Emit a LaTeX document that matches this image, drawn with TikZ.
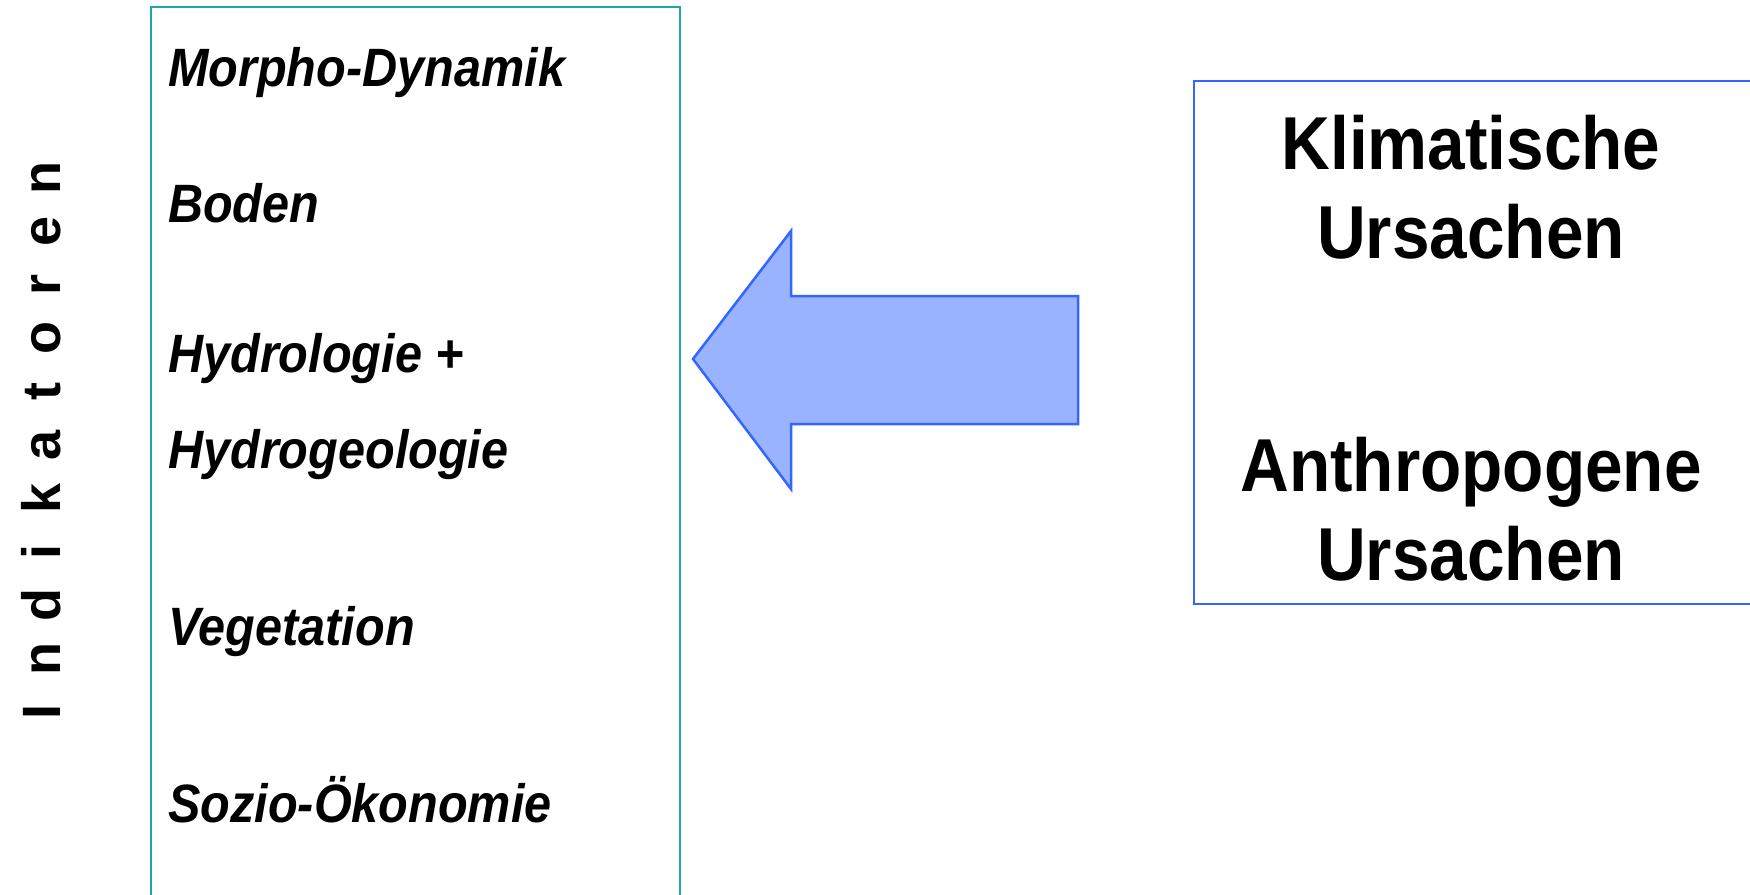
\documentclass[tikz,border=0pt]{standalone}
\usepackage{fontspec}
\setmainfont{Liberation Sans}
\newfontfamily\labfont[FakeStretch=0.9]{Liberation Sans}
\newfontfamily\causefont[FakeStretch=0.9]{Liberation Sans}
\definecolor{tealc}{RGB}{30,166,166}
\definecolor{bluec}{RGB}{51,102,255}
\definecolor{bluefill}{RGB}{153,179,255}
\newcommand\lsp[1]{\makebox[53.4pt]{#1}}
\begin{document}
\begin{tikzpicture}[x=1pt,y=-1pt,
  lab/.style={anchor=base west, inner sep=0pt, font=\labfont\bfseries\itshape\fontsize{54}{60}\selectfont},
  cause/.style={anchor=base, inner sep=0pt, align=center, font=\causefont\bfseries\fontsize{75}{89}\selectfont},
  frame/.style={draw, line width=2pt, anchor=north west, inner sep=0pt},
  bigarrow/.style={draw=bluec, fill=bluefill, line width=2.5pt, line join=miter}]
\useasboundingbox (0,0) rectangle (1750,894);
\clip (0,0) rectangle (1750,894);
% left frame
\node[frame, draw=tealc, minimum width=529pt, minimum height=900pt] (indbox) at (150,6) {};
\node[lab] (morpho) at (168,86) {Morpho-Dynamik};
\node[lab] (boden) at (168,222) {Boden};
\node[lab] (hydro) at (168,372) {Hydrologie +};
\node[lab] (hydrogeo) at (168,468) {Hydrogeologie};
\node[lab] (veg) at (168,645) {Vegetation};
\node[lab] (sozio) at (168,822) {Sozio-Ökonomie};
% vertical title
\node[rotate=90, anchor=base, inner sep=0pt, font=\bfseries\fontsize{54}{60}\selectfont] (indik) at (60,445)
  {\lsp{I}\lsp{n}\lsp{d}\lsp{i}\lsp{k}\lsp{a}\lsp{t}\lsp{o}\lsp{r}\lsp{e}\lsp{n}};
% block arrow
\draw[bigarrow] (693,359) -- (791,231) -- (791,296) -- (1078,296) -- (1078,424) -- (791,424) -- (791,489) -- cycle;
% right frame
\node[frame, draw=bluec, minimum width=620pt, minimum height=523pt] (causebox) at (1193,80) {};
\node[cause] (klim) at (1471,258) {Klimatische\\Ursachen};
\node[cause] (anthro) at (1471,580) {Anthropogene\\Ursachen};
\end{tikzpicture}
\end{document}
